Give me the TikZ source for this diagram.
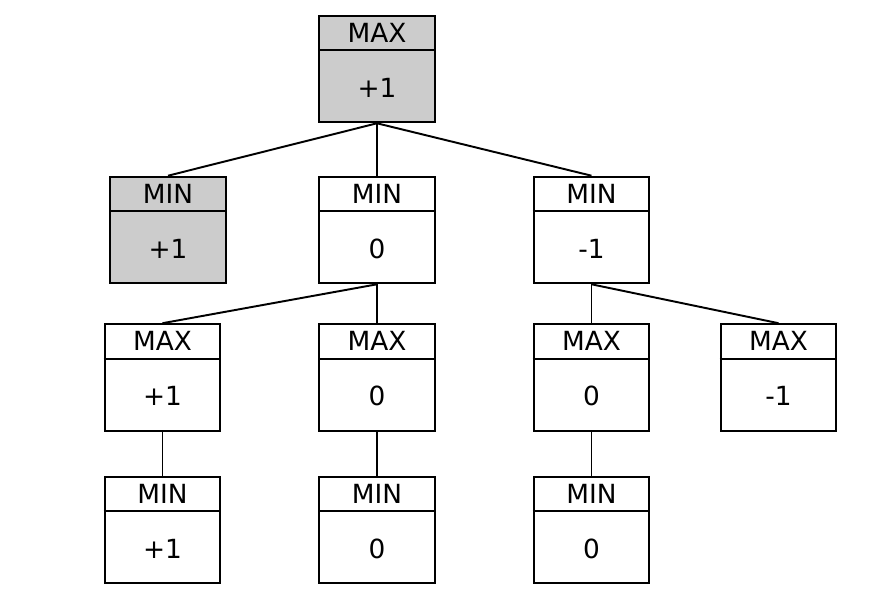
\documentclass[tikz,border=0pt]{standalone}
\usepackage{fontspec}
\setmainfont{DejaVu Sans}
\usetikzlibrary{positioning}

\definecolor{visitado}{HTML}{CCCCCC}

\tikzset{
    caja/.style={draw, line width=1.2pt, minimum width=2.31cm, minimum height=2.13cm, inner sep=0pt},
    texto/.style={font=\fontsize{15}{17}\selectfont, inner sep=0pt},
    arista/.style={line width=1.1pt}
}

\begin{document}
\begin{tikzpicture}[x=0.02cm, y=-0.02cm]
    \useasboundingbox (0,0) rectangle (877,615);

    % Dibuja las cajas del arbol minimax
    \foreach \nombre/\x/\y/\tipo/\valor/\color in {
        raiz/377/69/MAX/+1/visitado,
        a/168/230/MIN/+1/visitado,
        b/377/230/MIN/0/white,
        c/591.5/230/MIN/-1/white,
        ba/162.5/377.5/MAX/+1/white,
        bb/377/377.5/MAX/0/white,
        ca/591.5/377.5/MAX/0/white,
        cb/778.5/377.5/MAX/-1/white,
        baa/162.5/530/MIN/+1/white,
        bba/377/530/MIN/0/white,
        caa/591.5/530/MIN/0/white} {
        \node[caja, fill=\color] (\nombre) at (\x,\y) {};
        \draw[line width=1.2pt] ([yshift=-0.71cm]\nombre.north west) -- ([yshift=-0.71cm]\nombre.north east);
        \node[texto] (\nombre-tipo) at ([yshift=-0.355cm]\nombre.north) {\tipo};
        \node[texto] (\nombre-valor) at ([yshift=0.71cm]\nombre.south) {\valor};
    }

    % Dibuja las aristas
    \draw[arista] (raiz.south) -- (a.north);
    \draw[arista] (raiz.south) -- (b.north);
    \draw[arista] (raiz.south) -- (c.north);
    \draw[arista] (b.south) -- (ba.north);
    \draw[arista] (b.south) -- (bb.north);
    \draw[arista] (c.south) -- (ca.north);
    \draw[arista] (c.south) -- (cb.north);
    \draw[arista] (ba.south) -- (baa.north);
    \draw[arista] (bb.south) -- (bba.north);
    \draw[arista] (ca.south) -- (caa.north);
\end{tikzpicture}
\end{document}
